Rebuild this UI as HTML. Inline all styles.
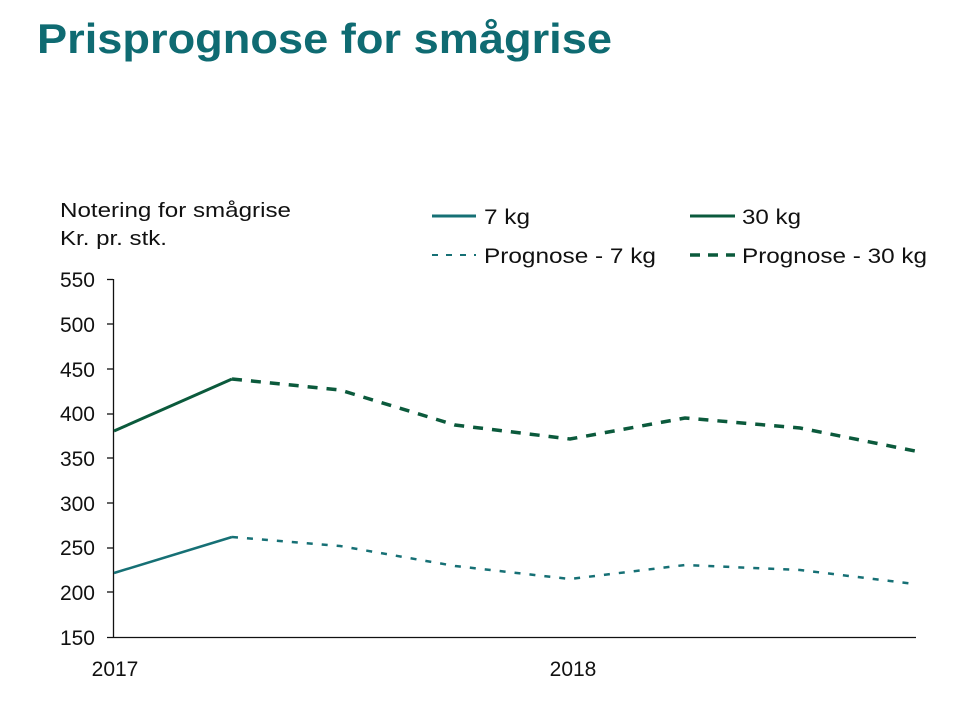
<!DOCTYPE html>
<html><head><meta charset="utf-8"><style>
body{margin:0;background:#fff;width:960px;height:703px;overflow:hidden}
</style></head><body>
<svg width="960" height="703" xmlns="http://www.w3.org/2000/svg" font-family="Liberation Sans, Arial, sans-serif">
<text x="37" y="53" font-size="42" font-weight="bold" fill="#0f6b72" textLength="575" lengthAdjust="spacingAndGlyphs">Prisprognose for smågrise</text>
<text x="60" y="217" font-size="20" fill="#111" textLength="231" lengthAdjust="spacingAndGlyphs">Notering  for smågrise</text>
<text x="60" y="245" font-size="20" fill="#111" textLength="107" lengthAdjust="spacingAndGlyphs">Kr. pr. stk.</text>
<g font-size="21" fill="#111" text-anchor="end">
<text x="95" y="287">550</text><text x="95" y="332">500</text><text x="95" y="377">450</text><text x="95" y="421">400</text><text x="95" y="466">350</text><text x="95" y="511">300</text><text x="95" y="555">250</text><text x="95" y="600">200</text><text x="95" y="645">150</text>
</g>
<g stroke="#111" stroke-width="1.3">
<line x1="113.5" y1="279" x2="113.5" y2="637"/>
<line x1="107" y1="637.5" x2="916" y2="637.5"/>
<line x1="107" y1="279.5" x2="113" y2="279.5"/><line x1="107" y1="324" x2="113" y2="324"/><line x1="107" y1="369" x2="113" y2="369"/><line x1="107" y1="414" x2="113" y2="414"/><line x1="107" y1="458" x2="113" y2="458"/><line x1="107" y1="503" x2="113" y2="503"/><line x1="107" y1="548" x2="113" y2="548"/><line x1="107" y1="592" x2="113" y2="592"/>
</g>
<text x="115" y="676" font-size="21" fill="#111" text-anchor="middle">2017</text>
<text x="573" y="676" font-size="21" fill="#111" text-anchor="middle">2018</text>
<polyline points="114,431 232,379" fill="none" stroke="#0b5a3c" stroke-width="3"/>
<polyline points="232,379 340,390 455,425 570,439 685,418 800,428 915,451" fill="none" stroke="#0b5a3c" stroke-width="3.5" stroke-dasharray="10,9"/>
<polyline points="114,573 232,537" fill="none" stroke="#167075" stroke-width="2.5"/>
<polyline points="232,537 340,546 455,566 570,579 685,565 800,570 915,584" fill="none" stroke="#167075" stroke-width="2.5" stroke-dasharray="6,9"/>
<line x1="432" y1="216" x2="476" y2="216" stroke="#167075" stroke-width="3"/>
<text x="484" y="224" font-size="21" fill="#111" textLength="46" lengthAdjust="spacingAndGlyphs">7 kg</text>
<line x1="690" y1="216" x2="735" y2="216" stroke="#0b5a3c" stroke-width="3"/>
<text x="742" y="224" font-size="21" fill="#111" textLength="59" lengthAdjust="spacingAndGlyphs">30 kg</text>
<line x1="432" y1="255" x2="476" y2="255" stroke="#167075" stroke-width="2" stroke-dasharray="6,8"/>
<text x="484" y="263" font-size="21" fill="#111" textLength="172" lengthAdjust="spacingAndGlyphs">Prognose - 7 kg</text>
<line x1="690" y1="255" x2="735" y2="255" stroke="#0b5a3c" stroke-width="3.5" stroke-dasharray="10,8"/>
<text x="742" y="263" font-size="21" fill="#111" textLength="185" lengthAdjust="spacingAndGlyphs">Prognose - 30 kg</text>
</svg>
</body></html>
